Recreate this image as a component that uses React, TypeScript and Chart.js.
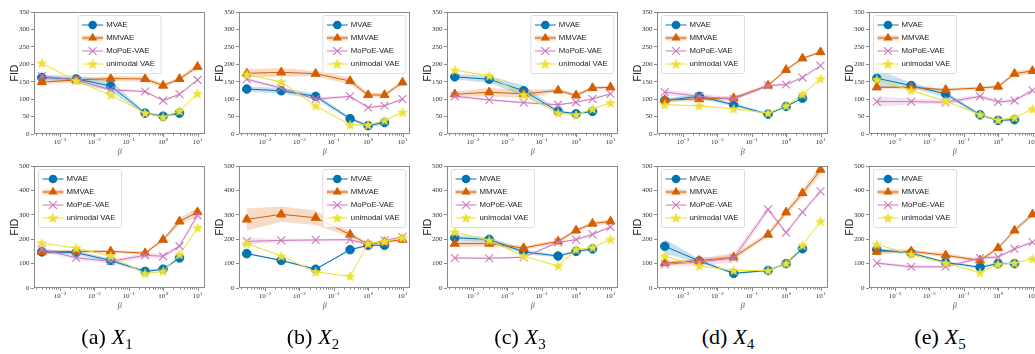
import React, { useEffect, useRef } from "react";
import { Chart, registerables } from "chart.js";

Chart.register(...registerables);

// ---------- data ----------
const betas = [0.0003, 0.003, 0.03, 0.3, 1, 3, 10];
const seriesNames = ["MVAE", "MMVAE", "MoPoE-VAE", "unimodal VAE"];
const captionLetters = ["a", "b", "c", "d", "e"];
const captionIndices = ["1", "2", "3", "4", "5"];
const xTickExponents = [-3, -2, -1, 0, 1];
const yTitle = "FID";
const xTitle = "β";

// top row (y range 0-350)
const t1MVAE = [162, 158, 138, 60, 51, 60];
const t1MMVAE = [149, 155, 159, 158, 139, 158, 193];
const t1MoPoE = [166, 155, 127, 122, 96, 114, 155];
const t1Uni = [203, 152, 112, 60, 48, 66, 116];
const t1ErrMVAE = [6, 10, 16, 4, 4, 4];
const t1ErrMMVAE = [7, 6, 7, 8, 6, 5, 9];
const t1ErrMoPoE = [5, 4, 4, 3, 4, 3, 4];
const t1ErrUni = [2, 2, 2, 2, 2, 2, 2];

const t2MVAE = [129, 124, 108, 44, 24, 33];
const t2MMVAE = [174, 177, 173, 152, 112, 112, 148];
const t2MoPoE = [157, 132, 100, 108, 76, 81, 100];
const t2Uni = [171, 149, 81, 26, 26, 39, 62];
const t2ErrMVAE = [8, 8, 8, 4, 5, 4];
const t2ErrMMVAE = [12, 12, 8, 10, 6, 5, 6];
const t2ErrMoPoE = [5, 4, 4, 4, 3, 3, 3];
const t2ErrUni = [2, 2, 2, 2, 2, 2, 2];

const t3MVAE = [164, 157, 124, 65, 58, 65];
const t3MMVAE = [114, 120, 115, 125, 111, 132, 134];
const t3MoPoE = [108, 98, 90, 84, 91, 101, 115];
const t3Uni = [183, 167, 112, 60, 55, 72, 89];
const t3ErrMVAE = [8, 10, 15, 4, 3, 3];
const t3ErrMMVAE = [8, 12, 12, 5, 5, 5, 5];
const t3ErrMoPoE = [4, 3, 3, 3, 3, 3, 3];
const t3ErrUni = [2, 2, 2, 2, 2, 2, 2];

const t4MVAE = [96, 108, 84, 57, 79, 103];
const t4MMVAE = [98, 100, 103, 139, 184, 217, 235];
const t4MoPoE = [120, 108, 100, 139, 142, 162, 196];
const t4Uni = [84, 81, 72, 60, 81, 114, 158];
const t4ErrMVAE = [6, 6, 5, 3, 3, 3];
const t4ErrMMVAE = [6, 5, 5, 4, 4, 4, 4];
const t4ErrMoPoE = [8, 8, 6, 4, 4, 3, 3];
const t4ErrUni = [2, 2, 2, 2, 2, 2, 2];

const t5MVAE = [160, 139, 115, 55, 39, 41];
const t5MMVAE = [134, 134, 127, 132, 136, 173, 181];
const t5MoPoE = [93, 93, 91, 108, 92, 96, 125];
const t5Uni = [156, 125, 94, 56, 40, 47, 72];
const t5ErrMVAE = [25, 8, 8, 4, 3, 3];
const t5ErrMMVAE = [4, 4, 4, 4, 5, 6, 8];
const t5ErrMoPoE = [15, 8, 6, 6, 5, 5, 6];
const t5ErrUni = [2, 2, 2, 2, 2, 2, 2];

// bottom row (y range 0-500)
const b1MVAE = [148, 145, 113, 68, 77, 123];
const b1MMVAE = [148, 150, 150, 143, 198, 273, 311];
const b1MoPoE = [158, 124, 109, 134, 130, 172, 298];
const b1Uni = [184, 164, 131, 59, 68, 137, 246];
const b1ErrMVAE = [8, 8, 8, 5, 5, 6];
const b1ErrMMVAE = [8, 6, 6, 6, 8, 14, 18];
const b1ErrMoPoE = [10, 8, 8, 10, 10, 8, 8];
const b1ErrUni = [2, 2, 2, 2, 2, 2, 2];

const b2MVAE = [141, 113, 77, 157, 175, 175];
const b2MMVAE = [281, 302, 288, 219, 179, 189, 198];
const b2MoPoE = [191, 195, 197, 198, 178, 195, 209];
const b2Uni = [182, 131, 66, 48, 182, 191, 206];
const b2ErrMVAE = [4, 4, 4, 4, 4, 4];
const b2ErrMMVAE = [45, 32, 30, 10, 6, 6, 6];
const b2ErrMoPoE = [14, 6, 5, 5, 5, 5, 5];
const b2ErrUni = [2, 2, 2, 2, 2, 2, 2];

const b3MVAE = [206, 199, 148, 131, 150, 160];
const b3MMVAE = [182, 182, 164, 191, 236, 264, 273];
const b3MoPoE = [123, 122, 126, 187, 198, 220, 250];
const b3Uni = [229, 195, 131, 90, 158, 166, 199];
const b3ErrMVAE = [10, 10, 10, 5, 5, 5];
const b3ErrMMVAE = [14, 12, 8, 8, 8, 8, 10];
const b3ErrMoPoE = [4, 4, 4, 5, 5, 5, 5];
const b3ErrUni = [2, 2, 2, 2, 2, 2, 2];

const b4MVAE = [171, 111, 60, 72, 100, 161];
const b4MMVAE = [102, 112, 126, 219, 310, 389, 485];
const b4MoPoE = [97, 107, 123, 322, 227, 311, 396];
const b4Uni = [131, 90, 72, 71, 100, 175, 273];
const b4ErrMVAE = [30, 8, 5, 4, 4, 5];
const b4ErrMMVAE = [8, 10, 10, 10, 12, 15, 20];
const b4ErrMoPoE = [8, 15, 20, 10, 8, 8, 8];
const b4ErrUni = [2, 2, 2, 2, 2, 2, 2];

const b5MVAE = [157, 143, 105, 85, 100, 100];
const b5MMVAE = [149, 150, 134, 113, 164, 236, 302];
const b5MoPoE = [102, 87, 87, 123, 127, 160, 188];
const b5Uni = [179, 137, 102, 63, 97, 102, 120];
const b5ErrMVAE = [6, 5, 5, 5, 4, 4];
const b5ErrMMVAE = [10, 8, 8, 8, 6, 8, 10];
const b5ErrMoPoE = [6, 6, 5, 8, 6, 6, 6];
const b5ErrUni = [2, 2, 2, 2, 2, 2, 2];

// ---------- styling / layout ----------
const COLORS = ["#0173b2", "#d55e00", "#cc78bc", "#ece133"];
const BANDS = ["rgba(1,115,178,0.22)", "rgba(213,94,0,0.22)", "rgba(204,120,188,0.22)", "rgba(236,225,51,0.25)"];
const PLOT_LEFTS = [34, 239, 447, 657, 869];
const ROW_TOPS = [12, 166];
const PLOT_W = 174;
const PLOT_H = 122;
const CAPTION_X = [107, 313, 520, 728, 940];
const PAD_L = 34;
const PAD_T = 12;
const CANVAS_W = PAD_L + PLOT_W + 4;
const CANVAS_H = PAD_T + PLOT_H + 28;
const XMIN = Math.pow(10, -3.749);
const XMAX = Math.pow(10, 1.226);
const AXIS_GRAY = "#8a8a8a";

let starCache: HTMLCanvasElement | null = null;
function starImage(): HTMLCanvasElement {
  if (starCache) return starCache;
  const r = 5;
  const size = 12;
  const c = document.createElement("canvas");
  c.width = size;
  c.height = size;
  const ctx = c.getContext("2d")!;
  ctx.beginPath();
  for (let i = 0; i < 10; i++) {
    const ang = -Math.PI / 2 + (i * Math.PI) / 5;
    const rr = i % 2 === 0 ? r : r * 0.42;
    ctx.lineTo(size / 2 + rr * Math.cos(ang), size / 2 + 0.4 + rr * Math.sin(ang));
  }
  ctx.closePath();
  ctx.fillStyle = COLORS[3];
  ctx.fill();
  ctx.strokeStyle = COLORS[3];
  ctx.lineWidth = 0.6;
  ctx.stroke();
  starCache = c;
  return c;
}

const POINT_STYLES = ["circle", "triangle", "crossRot", "star"];
const POINT_RADII = [4.3, 5.2, 5.6, 5];

function drawMarker(ctx: CanvasRenderingContext2D, si: number, x: number, y: number) {
  const col = COLORS[si];
  ctx.save();
  ctx.fillStyle = col;
  ctx.strokeStyle = col;
  ctx.lineWidth = 1;
  if (si === 0) {
    ctx.beginPath();
    ctx.arc(x, y, POINT_RADII[0], 0, Math.PI * 2);
    ctx.fill();
  } else if (si === 1) {
    const r = POINT_RADII[1];
    ctx.beginPath();
    for (let i = 0; i < 3; i++) {
      const a = (i * 2 * Math.PI) / 3;
      ctx.lineTo(x + Math.sin(a) * r, y - Math.cos(a) * r);
    }
    ctx.closePath();
    ctx.fill();
  } else if (si === 2) {
    const o = POINT_RADII[2] * Math.SQRT1_2;
    ctx.lineWidth = 1.1;
    ctx.beginPath();
    ctx.moveTo(x - o, y - o);
    ctx.lineTo(x + o, y + o);
    ctx.moveTo(x - o, y + o);
    ctx.lineTo(x + o, y - o);
    ctx.stroke();
  } else {
    const img = starImage();
    ctx.drawImage(img, x - img.width / 2, y - img.height / 2);
  }
  ctx.restore();
}

const decorPlugin = {
  id: "decor",
  afterDatasetsDraw(chart: any, _args: any, opts: any) {
    const ctx: CanvasRenderingContext2D = chart.ctx;
    const { left, right, top, bottom } = chart.chartArea;
    const xs = chart.scales.x;
    ctx.save();
    // frame
    ctx.strokeStyle = AXIS_GRAY;
    ctx.lineWidth = 1;
    ctx.strokeRect(Math.round(left) + 0.5, Math.round(top) + 0.5, Math.round(right - left) - 1, Math.round(bottom - top) - 1);
    // x ticks (major + minor)
    for (let k = -4; k <= 1; k++) {
      for (let m = 1; m <= 9; m++) {
        const v = m * Math.pow(10, k);
        if (v < xs.min || v > xs.max) continue;
        const px = Math.round(xs.getPixelForValue(v)) + 0.5;
        const len = m === 1 ? 3 : 1.6;
        ctx.beginPath();
        ctx.moveTo(px, bottom);
        ctx.lineTo(px, bottom + len);
        ctx.stroke();
      }
    }
    // x tick labels 10^k
    ctx.fillStyle = "#333";
    ctx.textBaseline = "alphabetic";
    ctx.textAlign = "left";
    xTickExponents.forEach((k) => {
      const px = xs.getPixelForValue(Math.pow(10, k));
      const base = "10";
      const exp = k < 0 ? "\u2212" + Math.abs(k) : String(k);
      ctx.font = '7px "Liberation Serif"';
      const wb = ctx.measureText(base).width;
      ctx.font = '5px "Liberation Serif"';
      const we = ctx.measureText(exp).width;
      const sx = px - (wb + we) / 2;
      ctx.font = '7px "Liberation Serif"';
      ctx.fillText(base, sx, bottom + 9.5);
      ctx.font = '5px "Liberation Serif"';
      ctx.fillText(exp, sx + wb + 0.3, bottom + 7);
    });
    // x title
    ctx.font = 'italic 8px "Liberation Serif"';
    ctx.textAlign = "center";
    ctx.textBaseline = "middle";
    ctx.fillStyle = "#555";
    ctx.fillText(xTitle, (left + right) / 2, bottom + 18);
    // y title
    ctx.save();
    ctx.translate(left - 19, (top + bottom) / 2);
    ctx.rotate(-Math.PI / 2);
    ctx.font = '10.5px "Liberation Sans"';
    ctx.fillStyle = "#222";
    ctx.fillText(yTitle, 0, 0);
    ctx.restore();

    // legend
    const w = 83;
    const h = 58;
    const pos = opts.legendPos;
    const bx = pos === "left" ? left + 4.5 : pos === "right" ? right - 4.5 - w : (left + right) / 2 - w / 2;
    const by = top + 3.5;
    ctx.beginPath();
    const rr = 2;
    ctx.moveTo(bx + rr, by);
    ctx.lineTo(bx + w - rr, by);
    ctx.quadraticCurveTo(bx + w, by, bx + w, by + rr);
    ctx.lineTo(bx + w, by + h - rr);
    ctx.quadraticCurveTo(bx + w, by + h, bx + w - rr, by + h);
    ctx.lineTo(bx + rr, by + h);
    ctx.quadraticCurveTo(bx, by + h, bx, by + h - rr);
    ctx.lineTo(bx, by + rr);
    ctx.quadraticCurveTo(bx, by, bx + rr, by);
    ctx.closePath();
    ctx.fillStyle = "rgba(255,255,255,0.85)";
    ctx.fill();
    ctx.strokeStyle = "#d4d4d4";
    ctx.lineWidth = 0.8;
    ctx.stroke();
    seriesNames.forEach((name, si) => {
      const cy = by + 9.5 + si * 13;
      const hx0 = bx + 4;
      const hx1 = bx + 25;
      if (si === 1) {
        ctx.strokeStyle = "rgba(213,94,0,0.25)";
        ctx.lineWidth = 5;
        ctx.beginPath();
        ctx.moveTo(hx0, cy);
        ctx.lineTo(hx1, cy);
        ctx.stroke();
      }
      ctx.strokeStyle = COLORS[si];
      ctx.lineWidth = 1;
      ctx.beginPath();
      ctx.moveTo(hx0, cy);
      ctx.lineTo(hx1, cy);
      ctx.stroke();
      drawMarker(ctx, si, (hx0 + hx1) / 2, cy);
      ctx.fillStyle = "#1a1a1a";
      ctx.font = '7.8px "Liberation Sans"';
      ctx.textAlign = "left";
      ctx.textBaseline = "middle";
      ctx.fillText(name, bx + 28, cy + 0.3);
    });
    ctx.restore();
  },
};

type PanelProps = {
  plotLeft: number;
  plotTop: number;
  ymax: number;
  ystep: number;
  vals: number[][];
  errs: number[][];
  legendPos: string;
};

function Panel({ plotLeft, plotTop, ymax, ystep, vals, errs, legendPos }: PanelProps) {
  const ref = useRef<HTMLCanvasElement>(null);
  useEffect(() => {
    const datasets: any[] = [];
    vals.forEach((v, si) => {
      const e = errs[si];
      datasets.push({
        data: v.map((y, i) => ({ x: betas[i], y: y + e[i] })),
        borderWidth: 0,
        borderColor: "transparent",
        backgroundColor: "transparent",
        pointRadius: 0,
        fill: false,
        order: 20 + si,
      });
      datasets.push({
        data: v.map((y, i) => ({ x: betas[i], y: y - e[i] })),
        borderWidth: 0,
        borderColor: "transparent",
        backgroundColor: BANDS[si],
        pointRadius: 0,
        fill: "-1",
        order: 20 + si,
      });
    });
    vals.forEach((v, si) => {
      datasets.push({
        data: v.map((y, i) => ({ x: betas[i], y })),
        borderColor: COLORS[si],
        backgroundColor: COLORS[si],
        borderWidth: 1,
        pointStyle: si === 3 ? starImage() : POINT_STYLES[si],
        pointRadius: POINT_RADII[si],
        pointBorderWidth: si === 2 ? 1.1 : 1,
        pointBorderColor: COLORS[si],
        pointBackgroundColor: COLORS[si],
        fill: false,
        tension: 0,
        order: 4 - si,
      });
    });
    const chart = new Chart(ref.current!, {
      type: "line",
      data: { datasets },
      options: {
        responsive: false,
        animation: false,
        devicePixelRatio: 1,
        events: [],
        layout: { padding: { top: PAD_T, right: CANVAS_W - PAD_L - PLOT_W, left: 0, bottom: 4 } },
        plugins: {
          legend: { display: false },
          tooltip: { enabled: false },
          decor: { legendPos },
        } as any,
        scales: {
          x: {
            type: "logarithmic",
            min: XMIN,
            max: XMAX,
            ticks: { display: false },
            grid: { display: false },
            border: { display: false },
            afterFit: (s: any) => {
              s.height = CANVAS_H - PAD_T - PLOT_H - 4;
            },
          },
          y: {
            type: "linear",
            min: 0,
            max: ymax,
            ticks: {
              stepSize: ystep,
              autoSkip: false,
              font: { family: "Liberation Serif", size: 7 },
              color: "#333",
              padding: 1.5,
            },
            grid: { drawOnChartArea: false, drawTicks: true, tickLength: 3, color: AXIS_GRAY },
            border: { display: false },
            afterFit: (s: any) => {
              s.width = PAD_L;
            },
          },
        },
      } as any,
      plugins: [decorPlugin],
    });
    return () => chart.destroy();
  }, []);
  return (
    <canvas
      ref={ref}
      width={CANVAS_W}
      height={CANVAS_H}
      style={{ position: "absolute", left: plotLeft - PAD_L, top: plotTop - PAD_T, width: CANVAS_W, height: CANVAS_H }}
    />
  );
}

const topVals = [
  [t1MVAE, t1MMVAE, t1MoPoE, t1Uni],
  [t2MVAE, t2MMVAE, t2MoPoE, t2Uni],
  [t3MVAE, t3MMVAE, t3MoPoE, t3Uni],
  [t4MVAE, t4MMVAE, t4MoPoE, t4Uni],
  [t5MVAE, t5MMVAE, t5MoPoE, t5Uni],
];
const topErrs = [
  [t1ErrMVAE, t1ErrMMVAE, t1ErrMoPoE, t1ErrUni],
  [t2ErrMVAE, t2ErrMMVAE, t2ErrMoPoE, t2ErrUni],
  [t3ErrMVAE, t3ErrMMVAE, t3ErrMoPoE, t3ErrUni],
  [t4ErrMVAE, t4ErrMMVAE, t4ErrMoPoE, t4ErrUni],
  [t5ErrMVAE, t5ErrMMVAE, t5ErrMoPoE, t5ErrUni],
];
const bottomVals = [
  [b1MVAE, b1MMVAE, b1MoPoE, b1Uni],
  [b2MVAE, b2MMVAE, b2MoPoE, b2Uni],
  [b3MVAE, b3MMVAE, b3MoPoE, b3Uni],
  [b4MVAE, b4MMVAE, b4MoPoE, b4Uni],
  [b5MVAE, b5MMVAE, b5MoPoE, b5Uni],
];
const bottomErrs = [
  [b1ErrMVAE, b1ErrMMVAE, b1ErrMoPoE, b1ErrUni],
  [b2ErrMVAE, b2ErrMMVAE, b2ErrMoPoE, b2ErrUni],
  [b3ErrMVAE, b3ErrMMVAE, b3ErrMoPoE, b3ErrUni],
  [b4ErrMVAE, b4ErrMMVAE, b4ErrMoPoE, b4ErrUni],
  [b5ErrMVAE, b5ErrMMVAE, b5ErrMoPoE, b5ErrUni],
];
const topLegendPos = ["center", "right", "right", "left", "left"];
const bottomLegendPos = ["left", "right", "left", "left", "left"];

export default function App() {
  return (
    <div
      style={{
        position: "fixed",
        left: 0,
        top: 0,
        width: 1035,
        height: 354,
        overflow: "hidden",
        background: "#fff",
      }}
    >
      {PLOT_LEFTS.map((pl, i) => (
        <Panel
          key={"t" + i}
          plotLeft={pl}
          plotTop={ROW_TOPS[0]}
          ymax={350}
          ystep={50}
          vals={topVals[i]}
          errs={topErrs[i]}
          legendPos={topLegendPos[i]}
        />
      ))}
      {PLOT_LEFTS.map((pl, i) => (
        <Panel
          key={"b" + i}
          plotLeft={pl}
          plotTop={ROW_TOPS[1]}
          ymax={500}
          ystep={100}
          vals={bottomVals[i]}
          errs={bottomErrs[i]}
          legendPos={bottomLegendPos[i]}
        />
      ))}
      {captionLetters.map((l, i) => (
        <div
          key={l}
          style={{
            position: "absolute",
            left: CAPTION_X[i],
            top: 326,
            transform: "translateX(-50%)",
            fontFamily: '"Liberation Serif", serif',
            fontSize: 22,
            lineHeight: 1,
            whiteSpace: "nowrap",
            color: "#000",
          }}
        >
          ({l})
          <span style={{ marginLeft: 6 }}>
            <i>X</i>
            <span style={{ fontSize: 15, verticalAlign: "-5px", lineHeight: 0 }}>{captionIndices[i]}</span>
          </span>
        </div>
      ))}
    </div>
  );
}
